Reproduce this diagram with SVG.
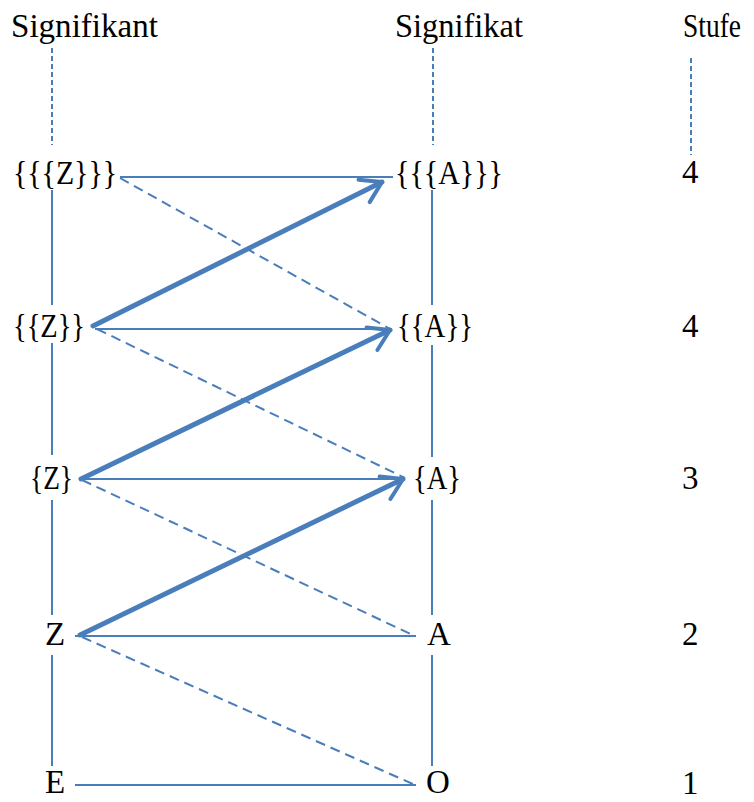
<svg xmlns="http://www.w3.org/2000/svg" width="754" height="802" viewBox="0 0 754 802">
<defs>
<style>
text { font-family: "Liberation Serif", "DejaVu Serif", serif; font-size: 33px; fill: #000; }
.thin { stroke: #4A7EBB; stroke-width: 2; fill: none; }
.vdash { stroke: #4A7EBB; stroke-width: 2; fill: none; stroke-dasharray: 5 3; }
.ddash { stroke: #4A7EBB; stroke-width: 2; fill: none; stroke-dasharray: 10 6; }
.thick { stroke: #4A7EBB; stroke-width: 5; fill: none; stroke-linecap: round; stroke-linejoin: round; }
</style>
<marker id="open" viewBox="0 0 12 12" refX="10" refY="6" markerWidth="6" markerHeight="6" markerUnits="strokeWidth" orient="auto">
<path d="M2,1 L10,6 L2,11" fill="none" stroke="#4A7EBB" stroke-width="1.6" stroke-linecap="round" stroke-linejoin="round"/>
</marker>
</defs>
<rect width="754" height="802" fill="#fff"/>
<g id="headers">
<text x="11" y="37" textLength="147" lengthAdjust="spacingAndGlyphs">Signifikant</text>
<text x="395" y="37" textLength="128" lengthAdjust="spacingAndGlyphs">Signifikat</text>
<text x="683" y="37" textLength="58" lengthAdjust="spacingAndGlyphs">Stufe</text>
</g>
<g id="connectors">
<line class="vdash" x1="52" y1="48" x2="52" y2="145"/>
<line class="vdash" x1="433" y1="48" x2="433" y2="145"/>
<line class="vdash" x1="691" y1="58" x2="691" y2="155"/>
<line class="thin" x1="52" y1="190" x2="52" y2="305"/>
<line class="thin" x1="52" y1="343" x2="52" y2="455"/>
<line class="thin" x1="52" y1="500" x2="52" y2="615"/>
<line class="thin" x1="52" y1="655" x2="52" y2="766"/>
<line class="thin" x1="432" y1="190" x2="432" y2="305"/>
<line class="thin" x1="432" y1="345" x2="432" y2="457"/>
<line class="thin" x1="432" y1="500" x2="432" y2="615"/>
<line class="thin" x1="432" y1="655" x2="432" y2="766"/>
<line class="thin" x1="120" y1="177" x2="393" y2="177"/>
<line class="thin" x1="95" y1="329" x2="392" y2="329"/>
<line class="thin" x1="80" y1="479" x2="405" y2="479"/>
<line class="thin" x1="75" y1="636" x2="416" y2="636"/>
<line class="thin" x1="75" y1="785" x2="416" y2="785"/>
<line class="ddash" x1="120" y1="178" x2="392" y2="330"/>
<line class="ddash" x1="97" y1="329" x2="405" y2="478"/>
<line class="ddash" x1="82" y1="480" x2="415" y2="636"/>
<line class="ddash" x1="82" y1="637" x2="415" y2="785"/>
<line class="thick" x1="93" y1="326" x2="382" y2="182" marker-end="url(#open)"/>
<line class="thick" x1="81" y1="479" x2="390" y2="330" marker-end="url(#open)"/>
<line class="thick" x1="80" y1="635" x2="403" y2="479" marker-end="url(#open)"/>
</g>
<g id="n-zzz"><text x="13" y="184" textLength="104" lengthAdjust="spacingAndGlyphs">{{{Z}}}</text></g>
<g id="n-aaa"><text x="395" y="184" textLength="108" lengthAdjust="spacingAndGlyphs">{{{A}}}</text></g>
<g id="s4a"><text x="682" y="183">4</text></g>
<g id="n-zz"><text x="13" y="337" textLength="72" lengthAdjust="spacingAndGlyphs">{{Z}}</text></g>
<g id="n-aa"><text x="397" y="337" textLength="76" lengthAdjust="spacingAndGlyphs">{{A}}</text></g>
<g id="s4b"><text x="682" y="337">4</text></g>
<g id="n-z1"><text x="30" y="489" textLength="43" lengthAdjust="spacingAndGlyphs">{Z}</text></g>
<g id="n-a1"><text x="413" y="489" textLength="48" lengthAdjust="spacingAndGlyphs">{A}</text></g>
<g id="s3"><text x="682" y="489">3</text></g>
<g id="n-z"><text x="45" y="645">Z</text></g>
<g id="n-a"><text x="427" y="645">A</text></g>
<g id="s2"><text x="682" y="645">2</text></g>
<g id="n-e"><text x="45" y="793">E</text></g>
<g id="n-o"><text x="426" y="793">O</text></g>
<g id="s1"><text x="682" y="794">1</text></g>
</svg>
